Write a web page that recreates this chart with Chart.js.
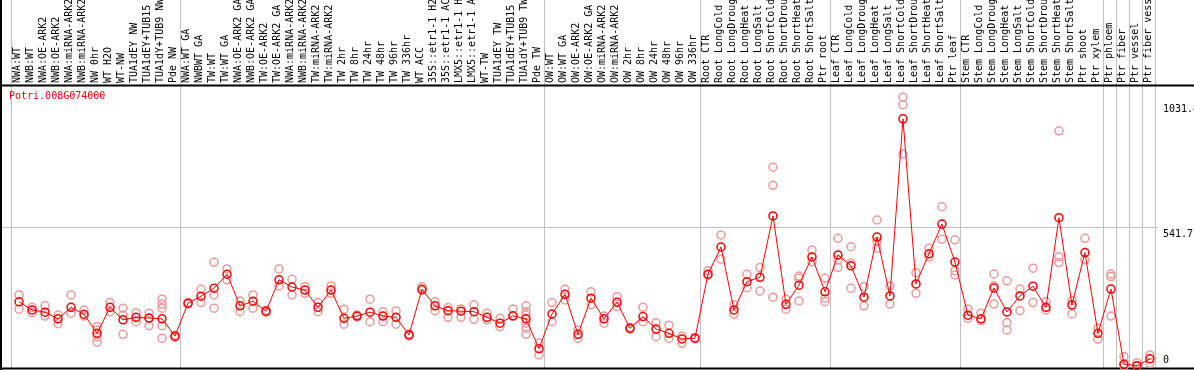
<!DOCTYPE html>
<html>
<head>
<meta charset="utf-8">
<script src="https://cdn.jsdelivr.net/npm/chart.js@4.4.0/dist/chart.umd.min.js"></script>
<style>
  html, body { margin: 0; padding: 0; background: #fff; }
  #wrap { width: 1194px; height: 370px; }
</style>
</head>
<body>
<div id="wrap"><canvas id="chart" width="1194" height="370"></canvas></div>
<script>
// ==== Data ====
const gene = 'Potri.008G074000';

const samples = [
  'NWA:WT', 'NWB:WT', 'NWA:OE-ARK2', 'NWB:OE-ARK2', 'NWA:miRNA-ARK2', 'NWB:miRNA-ARK2',
  'NW 0hr', 'WT H2O', 'WT-NW', 'TUA1dEY NW', 'TUA1dEY+TUB15', 'TUA1dY+TUB9 NW', 'Pde NW',
  'NWA:WT GA', 'NWBWT GA', 'TW:WT', 'TW:WT GA', 'NWA:OE-ARK2 GA', 'NWB:OE-ARK2 GA',
  'TW:OE-ARK2', 'TW:OE-ARK2 GA', 'NWA:miRNA-ARK2', 'NWB:miRNA-ARK2', 'TW:miRNA-ARK2',
  'TW:miRNA-ARK2', 'TW 2hr', 'TW 8hr', 'TW 24hr', 'TW 48hr', 'TW 96hr', 'TW 336hr',
  'WT ACC', '35S::etr1-1 H2', '35S::etr1-1 AC', 'LMX5::etr1-1 H', 'LMX5::etr1-1 A',
  'WT-TW', 'TUA1dEY TW', 'TUA1dEY+TUB15', 'TUA1dY+TUB9 TW', 'Pde TW',
  'OW:WT', 'OW:WT GA', 'OW:OE-ARK2', 'OW:OE-ARK2 GA', 'OW:miRNA-ARK2', 'OW:miRNA-ARK2',
  'OW 2hr', 'OW 8hr', 'OW 24hr', 'OW 48hr', 'OW 96hr', 'OW 336hr',
  'Root CTR', 'Root LongCold', 'Root LongDroug', 'Root LongHeat', 'Root LongSalt',
  'Root ShortCold', 'Root ShortDrou', 'Root ShortHeat', 'Root ShortSalt', 'Ptr root',
  'Leaf CTR', 'Leaf LongCold', 'Leaf LongDroug', 'Leaf LongHeat', 'Leaf LongSalt',
  'Leaf ShortCold', 'Leaf ShortDrou', 'Leaf ShortHeat', 'Leaf ShortSalt', 'Ptr leaf',
  'Stem CTR', 'Stem LongCold', 'Stem LongDroug', 'Stem LongHeat', 'Stem LongSalt',
  'Stem ShortCold', 'Stem ShortDrou', 'Stem ShortHeat', 'Stem ShortSalt', 'Ptr shoot',
  'Ptr xylem', 'Ptr phloem', 'Ptr fiber', 'Ptr vessel', 'Ptr fiber vess'
];

const means = [
  252, 220, 211, 185, 230, 203, 128, 230, 181, 191, 188, 185, 117,
  246, 274, 305, 360, 236, 254, 215, 338, 310, 298, 230, 298, 187, 196, 211,
  196, 191, 122, 301, 236, 217, 215, 213, 191, 168, 197, 185, 68,
  204, 281, 124, 266, 185, 250, 148, 194, 145, 128, 106, 109,
  360, 467, 220, 331, 348, 589, 242, 317, 428, 291,
  436, 393, 270, 506, 275, 970, 322, 440, 557, 408,
  199, 185, 306, 212, 275, 313, 230, 582, 240, 445,
  128, 302, 7, 1, 28
];

const replicates = [
  [279, 223], [230, 209], [236, 196], [200, 166], [279, 207], [220, 196],
  [154, 141, 115, 93], [249, 213], [227, 200, 124], [209, 174], [207, 187, 158],
  [262, 243, 227, 158, 109], [112, 121],
  [249, 243], [301, 249], [407, 279, 227], [381, 338], [255, 213], [279, 227],
  [210, 219], [381, 314], [340, 279], [311, 285], [249, 213], [314, 285],
  [223, 164], [200, 193], [262, 174], [213, 174], [216, 164], [118, 125],
  [311, 296], [252, 217], [229, 191], [224, 191], [240, 183], [207, 181],
  [187, 154], [224, 195], [236, 213, 200, 168, 148, 124], [89, 43],
  [249, 174], [301, 259], [141, 109], [291, 240], [196, 168], [272, 233],
  [144, 151], [230, 174], [170, 115], [160, 109], [118, 89], [106, 112],
  [374, 356], [514, 419], [240, 203], [360, 307], [386, 294], [780, 709, 270],
  [262, 223], [353, 344, 255], [455, 409], [344, 266, 252],
  [501, 416, 387], [468, 403, 305], [311, 236], [573, 488, 462], [314, 243],
  [1055, 1025, 832], [366, 285], [462, 427], [625, 497], [495, 374, 357],
  [224, 187], [207, 178], [361, 314, 243], [334, 170, 141], [302, 217],
  [384, 249], [252, 220], [923, 429, 406], [256, 204], [501, 416],
  [148, 105], [361, 351, 196], [37, 0], [13, 0], [43, 11]
];

const yTicks = [0, 541.7, 1031.4];
const groupEnds = [0, 13, 41, 53, 63, 73, 84, 85, 86, 87, 88];

const monoFont = { family: '"DejaVu Sans Mono", monospace', size: 10 };

// ==== Frame, separators and gene name ====
const frame = {
  id: 'frame',
  beforeDatasetsDraw(chart) {
    const { ctx, chartArea: area, scales: { x } } = chart;
    ctx.save();
    ctx.strokeStyle = '#c0c0c0';
    ctx.lineWidth = 1;
    groupEnds.forEach(k => {
      const px = Math.round(x.getPixelForValue(k + 0.38)) + 0.5;
      ctx.beginPath();
      ctx.moveTo(px, 0);
      ctx.lineTo(px, area.bottom);
      ctx.stroke();
    });
    ctx.strokeStyle = '#000';
    ctx.lineWidth = 2;
    ctx.beginPath();
    ctx.moveTo(1, 0); ctx.lineTo(1, chart.height);
    ctx.moveTo(0, 85.5); ctx.lineTo(chart.width, 85.5);
    ctx.moveTo(0, 368.5); ctx.lineTo(chart.width, 368.5);
    ctx.stroke();
    ctx.fillStyle = '#ff0000';
    ctx.font = '10px "DejaVu Sans Mono", monospace';
    ctx.textBaseline = 'top';
    ctx.fillText(gene, 9, 91);
    ctx.restore();
  }
};

const meanPoints = means.map((v, i) => ({ x: i + 1, y: v }));
const repPoints = replicates.flatMap((r, i) => r.map(v => ({ x: i + 1, y: v })));

new Chart(document.getElementById('chart'), {
  type: 'line',
  data: {
    datasets: [{
      label: gene,
      data: meanPoints,
      borderColor: '#ff0000',
      borderWidth: 1,
      pointRadius: 4,
      pointBorderWidth: 1.5,
      pointBorderColor: '#ff0000',
      pointBackgroundColor: 'rgba(0,0,0,0)',
      tension: 0,
      clip: false,
      order: 0
    }, {
      type: 'scatter',
      label: 'replicates',
      data: repPoints,
      showLine: false,
      pointRadius: 4,
      pointBorderWidth: 1.5,
      pointBorderColor: '#ef9a9a',
      pointBackgroundColor: 'rgba(0,0,0,0)',
      clip: false,
      order: 1
    }]
  },
  options: {
    responsive: false,
    animation: false,
    devicePixelRatio: 1,
    events: [],
    layout: { autoPadding: false, padding: { left: 2, right: 0, top: 0, bottom: 2 } },
    plugins: { legend: { display: false }, tooltip: { enabled: false } },
    scales: {
      x: {
        type: 'linear',
        position: 'top',
        min: -0.31,
        max: 88.62,
        afterBuildTicks: s => { s.ticks = samples.map((_, i) => ({ value: i + 1 })); },
        afterFit: s => { s.height = 87; s.paddingLeft = 0; s.paddingRight = 0; },
        ticks: {
          autoSkip: false,
          minRotation: 90,
          maxRotation: 90,
          padding: 4,
          labelOffset: 10,
          color: '#000',
          font: monoFont,
          callback: v => samples[v - 1]
        },
        grid: { display: false, drawTicks: false },
        border: { display: false }
      },
      y: {
        type: 'linear',
        position: 'right',
        min: -8,
        max: 1095,
        afterBuildTicks: s => { s.ticks = yTicks.map(v => ({ value: v })); },
        afterFit: s => { s.width = 36; s.paddingTop = 0; s.paddingBottom = 0; },
        ticks: {
          padding: 5,
          color: '#000',
          font: monoFont,
          callback: v => (v === 0 ? ['0', ''] : ['', String(v)])
        },
        grid: {
          drawTicks: false,
          lineWidth: 1,
          color: c => (c.tick && c.tick.value === 541.7 ? '#c0c0c0' : 'rgba(0,0,0,0)')
        },
        border: { display: false }
      }
    }
  },
  plugins: [frame]
});
</script>
</body>
</html>
